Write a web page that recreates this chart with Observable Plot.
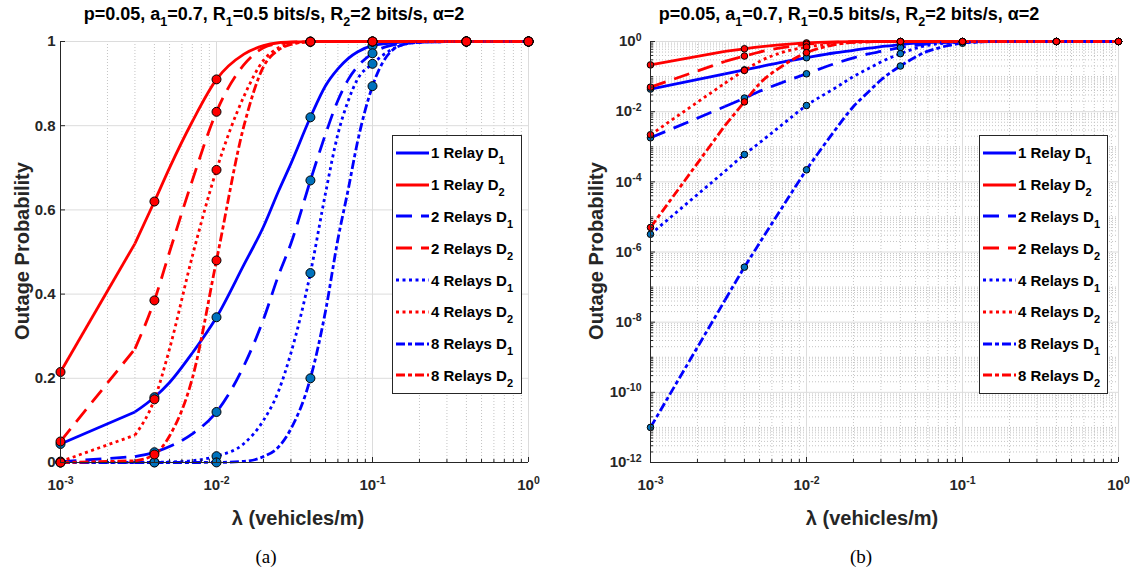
<!DOCTYPE html>
<html><head><meta charset="utf-8">
<script src="https://cdn.jsdelivr.net/npm/d3@7"></script>
<script src="https://cdn.jsdelivr.net/npm/@observablehq/plot@0.6"></script>
<style>
body{margin:0;background:#fff;}
#root{position:relative;width:1141px;height:577px;overflow:hidden;font-family:"Liberation Sans",Arial,sans-serif;color:#000;}
.panel{position:absolute;top:0;}
.title{position:absolute;top:4px;font-weight:bold;font-size:18px;line-height:20px;white-space:nowrap;transform:translateX(-50%);color:#000;}
.title sub{font-size:12.5px;vertical-align:-6px;line-height:0;}
.ylab{position:absolute;font-weight:bold;font-size:20px;line-height:20px;white-space:nowrap;transform:translate(-50%,-50%) rotate(-90deg);color:#262626;}
.xlab{position:absolute;font-weight:bold;font-size:20px;line-height:20px;white-space:nowrap;transform:translate(-50%,-50%);color:#262626;}
.cap{position:absolute;font-family:"Liberation Serif","DejaVu Serif",serif;font-size:19px;line-height:20px;transform:translate(-50%,-50%);}
.legend{position:absolute;border:1px solid #262626;background:#fff;box-sizing:border-box;padding-top:1px;}
.lrow{height:31.8px;display:flex;align-items:center;font-weight:bold;font-size:15px;white-space:nowrap;}
.lrow svg{margin-left:3px;margin-right:2px;flex:none;}
.lrow sub{font-size:11px;vertical-align:-6px;line-height:0;}
</style>
</head><body>
<div id="root"></div>
<script>
// ---------------- data ----------------
const lambda = [0.001, 0.003, 0.004, 0.005, 0.007, 0.01, 0.015, 0.02, 0.025, 0.03, 0.04, 0.05, 0.06, 0.07, 0.08, 0.1, 0.15, 0.2, 0.4, 1];
const relay1D1 = [0.044, 0.12, 0.155, 0.19, 0.26, 0.345, 0.47, 0.56, 0.645, 0.71, 0.82, 0.895, 0.935, 0.96, 0.975, 0.99, 0.998, 0.9995, 1, 1];
const relay1D2 = [0.215, 0.52, 0.62, 0.70, 0.81, 0.91, 0.97, 0.99, 0.997, 0.999, 0.9999, 1, 1, 1, 1, 1, 1, 1, 1, 1];
const relay2D1 = [0.0018, 0.014, 0.0244, 0.038, 0.068, 0.12, 0.23, 0.34, 0.445, 0.52, 0.67, 0.78, 0.86, 0.91, 0.94, 0.972, 0.995, 0.999, 1, 1];
const relay2D2 = [0.05, 0.27, 0.385, 0.50, 0.67, 0.833, 0.945, 0.985, 0.995, 0.998, 0.9998, 1, 1, 1, 1, 1, 1, 1, 1, 1];
const relay4D1 = [3.2e-6, 2.0e-4, 6e-4, 0.0013, 0.0043, 0.015, 0.045, 0.10, 0.17, 0.26, 0.45, 0.64, 0.78, 0.86, 0.91, 0.947, 0.99, 0.998, 1, 1];
const relay4D2 = [0.0022, 0.065, 0.15, 0.27, 0.49, 0.695, 0.87, 0.955, 0.985, 0.995, 0.9993, 0.9999, 1, 1, 1, 1, 1, 1, 1, 1];
const relay8D1 = [1e-11, 4.2e-8, 3.7e-7, 1.8e-6, 1.9e-5, 2.2e-4, 2.7e-3, 0.014, 0.037, 0.08, 0.20, 0.36, 0.53, 0.65, 0.76, 0.894, 0.99, 0.998, 1, 1];
const relay8D2 = [5e-6, 0.004, 0.019, 0.063, 0.20, 0.48, 0.80, 0.94, 0.98, 0.993, 0.9995, 1, 1, 1, 1, 1, 1, 1, 1, 1];
const markerLambda = [0.001, 0.004, 0.01, 0.04, 0.1, 0.4, 1];
const relayLabels = ["1 Relay", "1 Relay", "2 Relays", "2 Relays", "4 Relays", "4 Relays", "8 Relays", "8 Relays"];
const userLabels = ["1", "2", "1", "2", "1", "2", "1", "2"];
const xTicks = [1e-3, 1e-2, 1e-1, 1];
const xTickLabels = ["10^-3", "10^-2", "10^-1", "10^0"];
const yTicksLin = [0, 0.2, 0.4, 0.6, 0.8, 1];
const yTickLabelsLin = ["0", "0.2", "0.4", "0.6", "0.8", "1"];
const yTicksLog = [1e-12, 1e-10, 1e-8, 1e-6, 1e-4, 1e-2, 1];
const yTickLabelsLog = ["10^-12", "10^-10", "10^-8", "10^-6", "10^-4", "10^-2", "10^0"];
const titleText = 'p=0.05, a<sub>1</sub>=0.7, R<sub>1</sub>=0.5 bits/s, R<sub>2</sub>=2 bits/s, &alpha;=2';
const yLabel = "Outage Probability";
const xLabel = "λ (vehicles/m)";
const captions = ["(a)", "(b)"];

// ---------------- styles ----------------
const seriesValues = [relay1D1, relay1D2, relay2D1, relay2D2, relay4D1, relay4D2, relay8D1, relay8D2];
const BLUE = "#0000ff", RED = "#ff0000";
const dashes = [null, null, "16,9", "16,9", "3,3.5", "3,3.5", "9,3,4,3", "9,3,4,3"];
const colors = [BLUE, RED, BLUE, RED, BLUE, RED, BLUE, RED];
const markerFills = ["#0072bd", "#ff0000", "#0072bd", "#ff0000", "#0072bd", "#ff0000", "#0072bd", "#ff0000"];

function minorTicks(lo, hi) {
  const out = [];
  for (let e = lo; e < hi; e++) for (let k = 2; k <= 9; k++) out.push(k * Math.pow(10, e));
  return out;
}

function supify(svg) {
  const ns = "http://www.w3.org/2000/svg";
  svg.querySelectorAll("text").forEach(t => {
    const m = /^10\^(.+)$/.exec(t.textContent);
    if (!m) return;
    t.textContent = "";
    const a = document.createElementNS(ns, "tspan"); a.textContent = "10";
    const b = document.createElementNS(ns, "tspan");
    b.setAttribute("dy", "-0.55em"); b.setAttribute("font-size", "10.5px"); b.textContent = m[1];
    t.append(a, b);
  });
}

function panel(isLog) {
  const W = isLog ? 571 : 570;
  const mL = isLog ? 80 : 60;
  const mR = isLog ? 23 : 42;
  const xMinor = minorTicks(-3, 0);
  const yTicks = isLog ? yTicksLog : yTicksLin;
  const yLabels = isLog ? yTickLabelsLog : yTickLabelsLin;
  const yMinorLog = minorTicks(-12, 0).concat([1e-11, 1e-9, 1e-7, 1e-5, 1e-3, 1e-1]);
  const r = isLog ? 3.3 : 4.5;
  const marks = [
    Plot.gridX(xMinor, {stroke: "#c4c4c4", strokeOpacity: 1, strokeDasharray: "1,2"}),
  ];
  if (isLog) marks.push(Plot.gridY(yMinorLog, {stroke: "#c4c4c4", strokeOpacity: 1, strokeDasharray: "1,2"}));
  marks.push(
    Plot.gridX(xTicks, {stroke: "#dcdcdc", strokeOpacity: 1}),
    Plot.gridY(yTicks, {stroke: "#dcdcdc", strokeOpacity: 1}),
  );
  seriesValues.forEach((vals, i) => {
    const pts = lambda.map((l, j) => ({x: l, y: vals[j]}));
    const common = {x: "x", y: "y", stroke: colors[i], strokeWidth: 2.8,
      strokeDasharray: dashes[i], strokeLinecap: "butt", strokeLinejoin: "round"};
    // straight first segment, smooth remainder
    marks.push(Plot.line(pts.slice(0, 2), {...common, curve: "linear"}));
    marks.push(Plot.line(pts.slice(1), {...common, curve: "monotone-x"}));
  });
  const order = [0, 2, 4, 6, 1, 3, 5, 7];
  order.forEach(i => {
    const vals = seriesValues[i];
    marks.push(Plot.dot(markerLambda.map(l => ({x: l, y: vals[lambda.indexOf(l)]})), {
      x: "x", y: "y", r, fill: markerFills[i], stroke: "#000", strokeWidth: 1
    }));
  });
  marks.push(
    Plot.axisX(xMinor, {tickSize: -3, tickFormat: () => "", stroke: "#262626", label: null}),
    Plot.axisX(xTicks, {tickSize: -5, tickFormat: () => "", stroke: "#262626", label: null}),
    Plot.axisX(xTicks, {tickSize: 0, tickPadding: 17, tickFormat: d => xTickLabels[xTicks.indexOf(d)], label: null, fill: "#262626"}),
    Plot.axisY(yTicks, {tickSize: -5, tickFormat: () => "", stroke: "#262626", label: null}),
    Plot.axisY(yTicks, {tickSize: 0, tickPadding: isLog ? 9 : 5, tickFormat: d => yLabels[yTicks.indexOf(d)], label: null, fill: "#262626"}),
  );
  if (isLog) marks.push(Plot.axisY(yMinorLog, {tickSize: -3, tickFormat: () => "", stroke: "#262626", label: null}));
  marks.push(
    Plot.ruleX([1e-3], {stroke: "#262626", strokeWidth: 1}),
    Plot.ruleY([isLog ? 1e-12 : 0], {stroke: "#262626", strokeWidth: 1}),
  );
  const svg = Plot.plot({
    width: W, height: 530,
    marginLeft: mL, marginRight: mR, marginTop: 41, marginBottom: 68,
    x: {type: "log", domain: [1e-3, 1]},
    y: isLog ? {type: "log", domain: [1e-12, 1]} : {domain: [0, 1]},
    style: {fontFamily: "'Liberation Sans', Arial, sans-serif", fontSize: "15px", fontWeight: "bold", background: "transparent", overflow: "visible", color: "#262626"},
    marks
  });
  supify(svg);
  return svg;
}

const root = document.getElementById("root");
function add(html, cls, x, y) {
  const d = document.createElement("div");
  d.className = cls; d.innerHTML = html;
  d.style.left = x + "px"; d.style.top = y + "px";
  root.appendChild(d); return d;
}
function legend(x, y, w, h) {
  const d = document.createElement("div");
  d.className = "legend";
  Object.assign(d.style, {left: x + "px", top: y + "px", width: w + "px", height: h + "px"});
  relayLabels.forEach((lab, i) => {
    const row = document.createElement("div");
    row.className = "lrow";
    const dash = dashes[i] ? `stroke-dasharray="${dashes[i]}"` : "";
    row.innerHTML = `<svg width="33" height="10"><line x1="0" x2="33" y1="5" y2="5" stroke="${colors[i]}" stroke-width="3" ${dash}/></svg><span>${lab} D<sub>${userLabels[i]}</sub></span>`;
    d.appendChild(row);
  });
  root.appendChild(d);
}

const a = panel(false); a.classList.add("panel"); a.style.left = "0px"; root.appendChild(a);
const b = panel(true); b.classList.add("panel"); b.style.left = "570px"; root.appendChild(b);

add(titleText, "title", 274, 4);
add(titleText, "title", 849, 4);
add(yLabel, "ylab", 22, 251);
add(yLabel, "ylab", 596, 251);
add(xLabel, "xlab", 298, 518);
add(xLabel, "xlab", 872, 518);
add(captions[0], "cap", 266, 557);
add(captions[1], "cap", 861, 557);
legend(392, 135, 130, 259);
legend(979, 135, 129, 259);
</script>
</body></html>
